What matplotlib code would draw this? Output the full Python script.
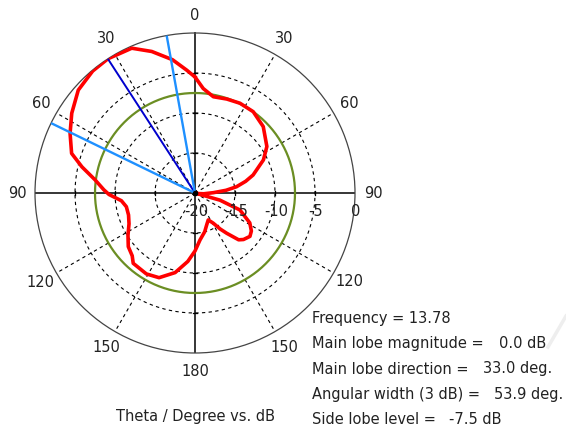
import numpy as np
import matplotlib
matplotlib.use('Agg')
import matplotlib.pyplot as plt
from matplotlib.transforms import offset_copy

# radiation pattern, angle measured clockwise from the top (deg) and gain (dB)
theta_deg = [0, 4.5, 10.8, 18.7, 26.6, 35.6, 45.8, 57.1, 64.2, 72.8, 77, 81.4, 85, 89,
             95, 100, 103, 106, 110.7, 118.6, 124, 128.3, 133.8, 137, 141.8, 145,
             148.9, 153.8, 159.9, 166, 173.9, 180, 186, 194, 203, 211, 221.3, 225,
             231.2, 237.8, 245, 251.7, 258.7, 264, 269, 272, 277.5, 283, 287.8,
             295.5, 302.9, 311.4, 320, 327, 336.4, 343, 350.4, 356.1]
gain_db = [-5.5, -6.9, -7.75, -7.6, -7.45, -7.5, -8.1, -9.3, -10.5, -12.4, -13.5, -14.75,
           -16.1, -17.7, -18.9, -19.6, -20, -16.75, -14.0, -12.2, -11.5, -11.25, -11.6,
           -12.0, -13.6, -14.5, -15.6, -16.25, -15.75, -15.0, -14.1, -12.75, -11.4,
           -9.75, -8.5, -8.2, -8.3, -8.9, -9.3, -10.1, -10.9, -11.25, -11.25, -10.75,
           -9.25, -8.6, -7.4, -5.5, -3.8, -2.7, -1.65, -0.55, -0.1, 0.0, -0.25, -1.5,
           -3.1, -4.6]

main_dir = 327.0          # 33 deg on the left side
half_power = [349.8, 295.9]
side_lobe = -7.5

angle_ticks = [0, 30, 60, 90, 120, 150, 180, 210, 240, 270, 300, 330]
angle_labels = ['0', '30', '60', '90', '120', '150', '180', '150', '120', '90', '60', '30']
ring_levels = [-15, -10, -5]
radial_ticks = [-20, -15, -10, -5, 0]
radial_labels = ['-20', '-15', '-10', '-5', '0']

info_labels = ['Frequency = 13.78', 'Main lobe magnitude =', 'Main lobe direction =',
               'Angular width (3 dB) =', 'Side lobe level =']
info_values = ['', '0.0 dB', '33.0 deg.', '53.9 deg.', '-7.5 dB']
value_x = [0, 499, 483, 494, 449]

plt.rcParams['font.family'] = 'DejaVu Sans'
fig = plt.figure(figsize=(5.66, 4.30), dpi=100)
ax = fig.add_axes([35 / 566, 1 - 353 / 430, 320 / 566, 320 / 430], projection='polar')
ax.set_theta_zero_location('N')
ax.set_theta_direction(-1)
ax.set_ylim(-20, 0)
ax.grid(False)
ax.set_xticks([])
ax.set_yticks([])
ax.spines['polar'].set_color('#444444')
ax.spines['polar'].set_linewidth(0.9)

full = np.linspace(0, 2 * np.pi, 361)
for lvl in ring_levels:
    ax.plot(full, [lvl] * len(full), color='black', lw=0.8, dashes=(3, 3), zorder=1)
for a in angle_ticks:
    if a % 90:
        ax.plot([np.radians(a)] * 2, [-20, 0], color='black', lw=0.8, dashes=(3, 3), zorder=1)
    else:
        ax.plot([np.radians(a)] * 2, [-20, 0], color='black', lw=1.1, zorder=1)

# small ticks on the main axes at each ring
for a in [0, 90, 180, 270]:
    for lvl in ring_levels:
        d = 0.2 / (lvl + 20)
        ax.plot([np.radians(a) - d, np.radians(a) + d], [lvl, lvl], color='black', lw=0.9, zorder=1)

ax.plot(full, [side_lobe] * len(full), color='#6b8e23', lw=1.6, zorder=2)

th = np.radians(theta_deg + [theta_deg[0] + 360])
g = gain_db + [gain_db[0]]
ax.plot(th, g, color='#ff0000', lw=2.6, zorder=3, solid_joinstyle='round')

ax.plot([np.radians(main_dir)] * 2, [-20, 0], color='#0000cd', lw=1.4, zorder=4)
for a in half_power:
    ax.plot([np.radians(a)] * 2, [-20, 0], color='#1e90ff', lw=1.7, zorder=4)
ax.plot([0], [-20], 'o', color='black', ms=3, zorder=5)

for a, lab in zip(angle_ticks, angle_labels):
    ax.text(np.radians(a), 2.25, lab, ha='center', va='center', fontsize=10.5,
            color='#222222', clip_on=False)

tr = offset_copy(ax.transData, fig=fig, x=1, y=-18, units='dots')
for r, lab in zip(radial_ticks, radial_labels):
    ax.text(np.pi / 2, r, lab, transform=tr, ha='center', va='center', fontsize=10.5,
            color='#222222', clip_on=False)

fig.text(196 / 566, 1 - 416 / 430, 'Theta / Degree vs. dB', ha='center', va='center',
         fontsize=10.5, color='#222222')
for i, (lab, val) in enumerate(zip(info_labels, info_values)):
    y = 1 - (318 + i * 25.5) / 430
    fig.text(312 / 566, y, lab, ha='left', va='center', fontsize=10.5, color='#222222')
    if val:
        fig.text(value_x[i] / 566, y, val, ha='left', va='center', fontsize=10.5, color='#222222')

# faint watermark stroke at the right edge
fig.add_artist(plt.Line2D([548 / 566, 566 / 566], [1 - 347 / 430, 1 - 316 / 430],
                          color='#eeeeee', lw=2.5, zorder=0))

fig.savefig('out.png', dpi=100)
